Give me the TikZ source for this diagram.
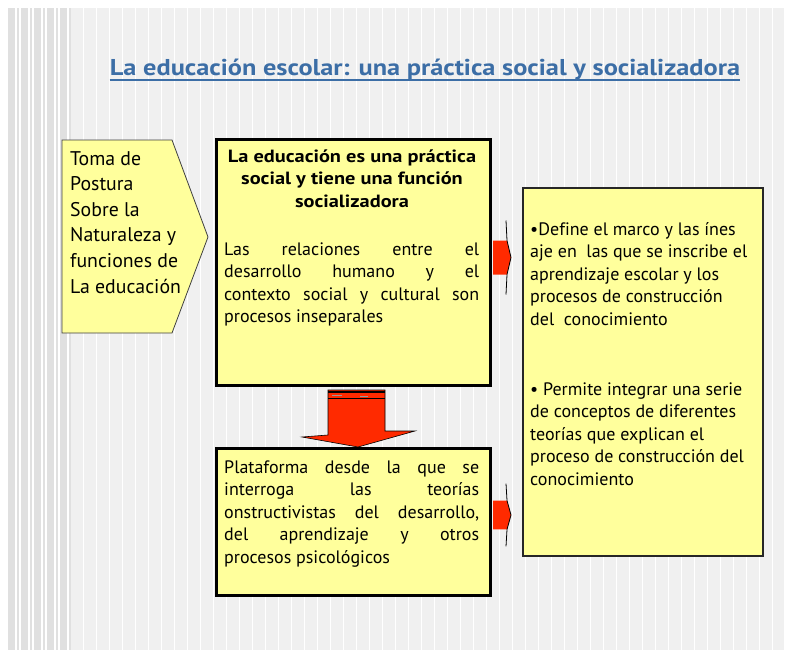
\documentclass[tikz,border=0pt]{standalone}
\usepackage{fontspec}
\setmainfont{PT Sans}[Ligatures=NoCommon]
\newfontfamily\headfont{PT Sans}[FakeStretch=1.15]
\definecolor{boxyellow}{HTML}{FFFF9C}
\definecolor{arrowred}{HTML}{FF2A00}
\definecolor{titleblue}{HTML}{3C6EA6}
\definecolor{bgfine}{HTML}{F0F0F0}
\definecolor{bggray}{HTML}{E0E0E0}
\begin{document}
\begin{tikzpicture}[x=1pt,y=-1pt,
  ybox/.style={draw=black, fill=boxyellow, line width=3pt, inner sep=0pt, anchor=north west},
  rbox/.style={draw=black!85, fill=boxyellow, line width=2pt, inner sep=0pt, anchor=north west},
  bodytext/.style={anchor=base west, inner sep=0pt, align=left, font=\fontsize{18}{22.6}\selectfont},
  headtext/.style={anchor=base, inner sep=0pt, align=center, font=\headfont\fontsize{17.7}{22.5}\selectfont\bfseries},
  pics/sidearr/.style={code={
    \fill[arrowred] (0,-17) -- (14,-17) -- (18,0) -- (14,17) -- (0,17) -- cycle;
    \draw[black, line width=0.8pt] (13,-37) -- (14,-17) -- (18,0) -- (14,17) -- (13,37);
  }},
  pics/downarr/.style={code={
    \fill[arrowred, draw=black, line width=0.6pt] (-30,-57) -- (27,-57) -- (27,-16) -- (57,-16) -- (0,0) -- (-56,-10) -- (-30,-12) -- cycle;
    \draw[black, line width=1.2pt] (-30,-55) -- (27,-55);
    \draw[black, line width=1pt] (-30,-49) -- (27,-49);
    \draw[black!40, line width=1pt] (-26,-52) -- (-16,-52) (2,-51) -- (10,-51);
  }}
]
\useasboundingbox (0,0) rectangle (791,650);
% background
\fill[white] (0,0) rectangle (791,650);
\fill[bgfine] (8,8) rectangle (784,650);
\foreach \x in {70,83,...,780} \fill[white] (\x,8) rectangle (\x+1.2,650);
\fill[white] (8,8) rectangle (69,650);
\foreach \x in {8,21,34,47,60} {
  \fill[bggray] (\x,8) rectangle (\x+7,650);
  \fill[bggray] (\x+9,8) rectangle (\x+11,650);
}
% title
\node[anchor=base, inner sep=0pt, text=titleblue, font=\headfont\fontsize{22.9}{26}\selectfont\bfseries] (title) at (425,76)
  {La educación escolar: una práctica social y socializadora};
\draw[titleblue, line width=1.5pt] ([yshift=-4pt]title.base west) -- ([yshift=-4pt]title.base east);
% left pentagon
\draw[fill=boxyellow, draw=black!75, line width=0.8pt] (62,140) -- (172,140) -- (208,237) -- (172,333) -- (62,333) -- cycle;
\node[anchor=base west, inner sep=0pt, align=left, font=\fontsize{19.8}{25.6}\selectfont] (toma) at (70,293)
  {Toma de\\Postura\\Sobre la\\Naturaleza y\\funciones de\\La educación};
% box 1
\node[ybox, minimum width=274, minimum height=246] (b1) at (215,138) {};
\node[headtext] (b1head) at (352,207) {La educación es una práctica\\social y tiene una función\\socializadora};
\node[bodytext] (b1body) at (224,322.8)
  {\makebox[255pt][s]{Las relaciones entre el}\\
   \makebox[255pt][s]{desarrollo humano y el}\\
   \makebox[255pt][s]{contexto social y cultural son}\\
   procesos inseparales};
% box 2
\node[ybox, minimum width=274, minimum height=147] (b2) at (215,447) {};
\node[bodytext] (b2body) at (224,563.4)
  {\makebox[255pt][s]{Plataforma desde la que se}\\
   \makebox[255pt][s]{interroga las teorías}\\
   \makebox[255pt][s]{onstructivistas del desarrollo,}\\
   \makebox[255pt][s]{del aprendizaje y otros}\\
   procesos psicológicos};
% right box
\node[rbox, minimum width=240, minimum height=368] (b3) at (522,187) {};
\node[bodytext] (b3a) at (530,325.4)
  {•Define el marco y las ínes\\
   aje en\ \ las que se inscribe el\\
   aprendizaje escolar y los\\
   procesos de construcción\\
   del\ \ conocimiento};
\node[bodytext] (b3b) at (530,485.4)
  {• Permite integrar una serie\\
   de conceptos de diferentes\\
   teorías que explican el\\
   proceso de construcción del\\
   conocimiento};
% arrows
\pic at ([xshift=1pt,yshift=5pt]b1.east) {sidearr};
\pic[yscale=0.85] at ([xshift=1pt,yshift=7pt]b2.east) {sidearr};
\pic at (358,447) {downarr};
\end{tikzpicture}
\end{document}
